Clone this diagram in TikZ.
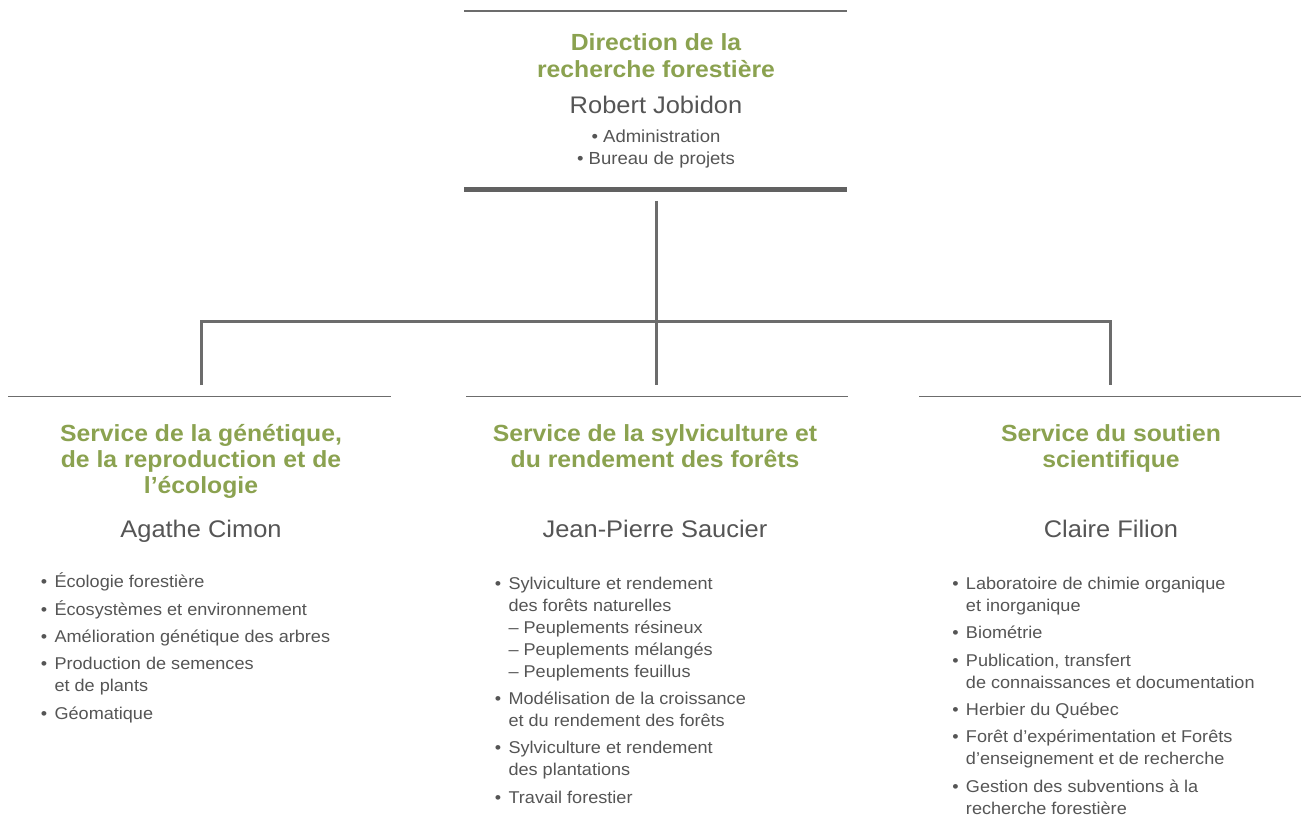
\documentclass[tikz,border=0pt]{standalone}
\usepackage{fontspec}
\setmainfont{Liberation Sans}[FakeStretch=1.06]
\definecolor{leaf}{RGB}{139,162,80}
\definecolor{ink}{RGB}{85,85,85}
\definecolor{rule}{RGB}{108,108,108}
\newcommand{\listdot}{\llap{\textbullet\hspace{5.5pt}}}
% Multi-line nodes are anchored at the baseline of their last line.
\begin{document}
\begin{tikzpicture}[x=0.75pt,y=-0.75pt,
  conn/.style={draw=rule,line width=2.25pt},
  hairline/.style={draw=rule,line width=1.1pt},
  heavyline/.style={draw=rule!90!black,line width=3.75pt},
  title/.style={text=leaf,font=\fontsize{17.5pt}{19.5pt}\selectfont\bfseries,
    align=center,anchor=base,inner sep=0pt},
  person/.style={text=ink,font=\fontsize{18pt}{22pt}\selectfont,anchor=base,inner sep=0pt},
  duties/.style={text=ink,font=\fontsize{12.8pt}{16.5pt}\selectfont,
    align=left,anchor=base west,inner sep=0pt}]
\fill[white] (0,0) rectangle (1301,837);
\path[use as bounding box] (0,0) rectangle (1301,837);

% --- Direction -------------------------------------------------------
\coordinate (dirTL) at (464,11);
\coordinate (dirTR) at (847,11);
\coordinate (dirBL) at (464,190);
\coordinate (dirBR) at (847,190);
\draw[hairline] (dirTL) -- (dirTR);
\draw[heavyline] (dirBL) -- (dirBR);
\node[title,font=\fontsize{17.5pt}{20.25pt}\selectfont\bfseries] (dirtitle) at (656,77.7)
  {Direction de la\\recherche forestière};
\node[person] (dirhead) at (656,113.3) {Robert Jobidon};
\node[text=ink,font=\fontsize{13.1pt}{16.7pt}\selectfont,align=center,anchor=base,inner sep=0pt]
  (dirduties) at (656,165) {• Administration\\• Bureau de projets};

% --- Connectors ------------------------------------------------------
\coordinate (dirfoot) at (656.7,201);
\coordinate (hub) at (656.7,321.5);
\coordinate (genknee) at (201,321.5);
\coordinate (souknee) at (1110.3,321.5);
\coordinate (gentop) at (201,385);
\coordinate (syltop) at (656.7,385);
\coordinate (soutop) at (1110.3,385);
\draw[conn] (dirfoot) -- (syltop);
\draw[conn] (gentop) -- (genknee) -- (souknee) -- (soutop);

% --- Service rules ---------------------------------------------------
\coordinate (genL) at (8,396.5);   \coordinate (genR) at (391,396.5);
\coordinate (sylL) at (466,396.5); \coordinate (sylR) at (848,396.5);
\coordinate (souL) at (919,396.5); \coordinate (souR) at (1301,396.5);
\draw[hairline] (genL) -- (genR);
\draw[hairline] (sylL) -- (sylR);
\draw[hairline] (souL) -- (souR);

% --- Service titles and heads ----------------------------------------
\node[title] (gentitle) at (201,493)
  {Service de la génétique,\\de la reproduction et de\\l’écologie};
\node[title] (syltitle) at (655,467)
  {Service de la sylviculture et\\du rendement des forêts};
\node[title] (soutitle) at (1111,467)
  {Service du soutien\\scientifique};
\node[person] (genhead) at (201,537) {Agathe Cimon};
\node[person] (sylhead) at (655,537) {Jean-Pierre Saucier};
\node[person] (souhead) at (1111,537) {Claire Filion};

% --- Duties ----------------------------------------------------------
\node[duties] (genduties) at (54.3,719) {%
  \listdot Écologie forestière\\[4pt]
  \listdot Écosystèmes et environnement\\[4pt]
  \listdot Amélioration génétique des arbres\\[4pt]
  \listdot Production de semences\\
  et de plants\\[4pt]
  \listdot Géomatique};

\node[duties] (sylduties) at (508.3,803) {%
  \listdot Sylviculture et rendement\\
  des forêts naturelles\\
  – Peuplements résineux\\
  – Peuplements mélangés\\
  – Peuplements feuillus\\[4pt]
  \listdot Modélisation de la croissance\\
  et du rendement des forêts\\[4pt]
  \listdot Sylviculture et rendement\\
  des plantations\\[4pt]
  \listdot Travail forestier};

\node[duties] (souduties) at (965.7,814) {%
  \listdot Laboratoire de chimie organique\\
  et inorganique\\[4pt]
  \listdot Biométrie\\[4pt]
  \listdot Publication, transfert\\
  de connaissances et documentation\\[4pt]
  \listdot Herbier du Québec\\[4pt]
  \listdot Forêt d’expérimentation et Forêts\\
  d’enseignement et de recherche\\[4pt]
  \listdot Gestion des subventions à la\\
  recherche forestière};
\end{tikzpicture}
\end{document}
